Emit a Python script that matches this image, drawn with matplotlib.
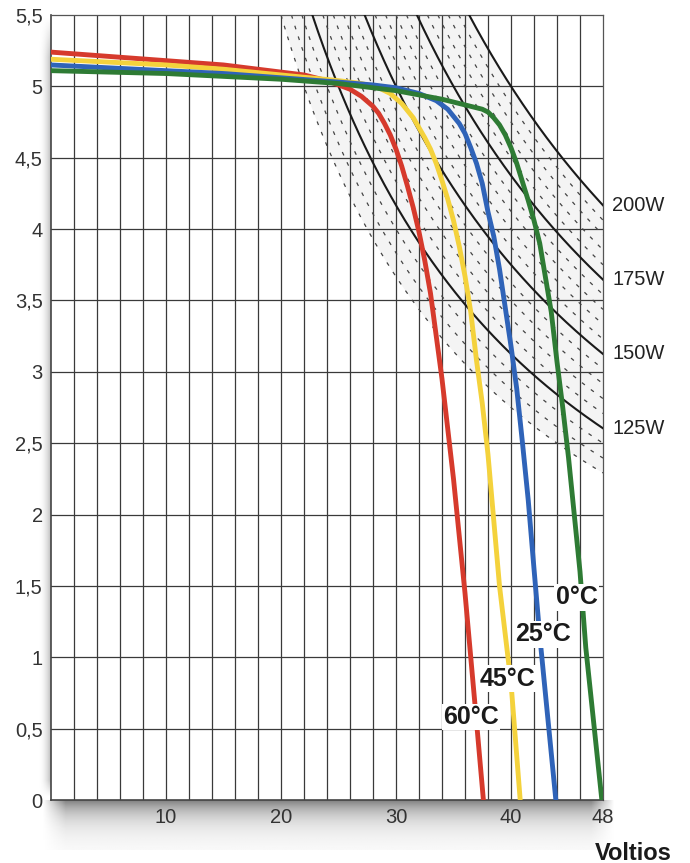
import numpy as np
import matplotlib
matplotlib.use("Agg")
from matplotlib import pyplot as plt

plt.rcParams['font.family'] = ['Liberation Sans', 'DejaVu Sans']

# I-V curves (volts, amps)
v_60 = [0, 5, 10, 15, 20, 22, 24, 25, 26, 27, 28, 28.5, 29, 29.5, 30, 30.5, 31, 31.5, 32, 32.5, 33, 34, 35, 36, 37, 37.6]
i_60 = [5.24, 5.21, 5.18, 5.15, 5.10, 5.08, 5.04, 5.01, 4.98, 4.93, 4.86, 4.81, 4.74, 4.66, 4.56, 4.44, 4.30, 4.15, 3.98, 3.78, 3.55, 2.95, 2.25, 1.45, 0.55, 0]

v_45 = [0, 5, 10, 15, 20, 25, 27, 28.5, 29.5, 30.5, 31.5, 32.5, 33, 33.5, 34, 34.5, 35, 35.5, 36, 36.5, 37, 37.5, 38, 39, 40, 40.8]
i_45 = [5.19, 5.17, 5.15, 5.12, 5.08, 5.04, 5.02, 4.99, 4.95, 4.88, 4.78, 4.64, 4.56, 4.46, 4.34, 4.21, 4.06, 3.88, 3.67, 3.42, 3.08, 2.78, 2.42, 1.50, 0.82, 0]

v_25 = [0, 5, 10, 15, 20, 25, 28, 30, 32, 33.5, 34.5, 35.5, 36, 36.5, 37, 37.5, 38, 38.5, 39, 39.5, 40, 40.5, 41, 41.5, 42, 42.5, 43.9]
i_25 = [5.15, 5.13, 5.11, 5.09, 5.06, 5.03, 5.01, 4.99, 4.95, 4.90, 4.84, 4.74, 4.67, 4.57, 4.46, 4.32, 4.12, 3.95, 3.72, 3.45, 3.18, 2.88, 2.50, 2.10, 1.62, 1.15, 0]

v_0 = [0, 5, 10, 15, 20, 25, 30, 34, 36, 37.5, 38, 38.5, 39, 39.5, 40, 40.5, 41, 41.5, 42, 42.5, 43, 43.5, 44, 44.5, 45, 45.5, 46, 46.5, 47.9]
i_0 = [5.11, 5.10, 5.09, 5.07, 5.05, 5.02, 4.97, 4.91, 4.87, 4.84, 4.82, 4.78, 4.73, 4.66, 4.57, 4.46, 4.33, 4.20, 4.06, 3.90, 3.66, 3.42, 3.07, 2.75, 2.40, 2.00, 1.60, 1.07, 0]

curves = [
    (v_60, i_60, '#d63a2c', '60°C', 36.5, 0.58),
    (v_45, i_45, '#f4d23c', '45°C', 39.7, 0.85),
    (v_25, i_25, '#2f63b8', '25°C', 42.8, 1.16),
    (v_0, i_0, '#2e7b34', '0°C', 45.7, 1.42),
]

# constant power lines (W)
solid_watts = [125, 150, 175, 200]
dashed_watts = [110, 115, 120, 130, 135, 140, 145, 155, 160, 165, 170, 180, 185, 190, 195]

y_ticks = [0, 0.5, 1, 1.5, 2, 2.5, 3, 3.5, 4, 4.5, 5, 5.5]
y_labels = ['0', '0,5', '1', '1,5', '2', '2,5', '3', '3,5', '4', '4,5', '5', '5,5']
x_ticks = [10, 20, 30, 40, 48]

fig = plt.figure(figsize=(6.9, 8.63), dpi=100)

# background shadows (pixel coords)
bg = fig.add_axes([0, 0, 1, 1], zorder=-5)
bg.set_xlim(0, 690)
bg.set_ylim(863, 0)
bg.axis('off')
yy = np.linspace(0, 1, 60)[:, None]
xx = np.linspace(0, 1, 300)[None, :]
shade = np.exp(-3.0 * yy) * np.clip(np.minimum(xx / 0.04, (1 - xx) / 0.04), 0, 1)
bg.imshow(1 - 0.5 * shade, cmap='gray', vmin=0, vmax=1, extent=[42, 615, 850, 800],
          aspect='auto', interpolation='bilinear')
xl = np.linspace(0, 1, 20)[None, :]
yl = np.linspace(0, 1, 100)[:, None]
lshade = xl ** 2 * np.clip(np.minimum(yl / 0.05, (1 - yl) / 0.02), 0, 1)
bg.imshow(1 - 0.25 * lshade, cmap='gray', vmin=0, vmax=1, extent=[38, 51, 800, 15],
          aspect='auto', interpolation='bilinear')

ax = fig.add_axes([51 / 690, 63 / 863, 552 / 690, 785 / 863])
ax.set_xlim(0, 48)
ax.set_ylim(0, 5.5)

# grid
for v in np.arange(2, 48, 2):
    ax.axvline(v, color='#3a3a3a', lw=0.9, zorder=1)
for i in np.arange(0.5, 5.5, 0.5):
    ax.axhline(i, color='#3a3a3a', lw=0.9, zorder=1)

# light band between lowest and highest power lines
vv = np.linspace(0.5, 48, 500)
ax.fill_between(vv, min(dashed_watts) / vv, max(solid_watts) / vv, color='#f4f4f4', zorder=0.5, lw=0)

for w in dashed_watts:
    v = np.linspace(w / 5.5, 48, 300)
    ax.plot(v, w / v, color='#444444', lw=0.9, ls=(0, (3, 6)), zorder=2)
for w in solid_watts:
    v = np.linspace(w / 5.5, 48, 300)
    ax.plot(v, w / v, color='#1a1a1a', lw=1.5, zorder=3)
    ax.text(48.8, w / 48, f'{w}W', fontsize=14.5, color='#222222', va='center', ha='left', clip_on=False)

for v, i, c, lab, tx, ty in curves:
    ax.plot(v, i, color=c, lw=3.5, zorder=4, solid_capstyle='round', solid_joinstyle='round')
    ax.text(tx, ty, lab, fontsize=18, fontweight='bold', color='#1a1a1a', ha='center', va='center',
            zorder=6, bbox=dict(boxstyle='square,pad=0.05', fc='white', ec='none'))

ax.set_yticks(y_ticks)
ax.set_yticklabels(y_labels)
ax.set_xticks(x_ticks)
ax.set_xticklabels([str(x) for x in x_ticks])
ax.tick_params(length=0, labelsize=14.5, labelcolor='#333333')
ax.tick_params(axis='y', pad=6)
ax.tick_params(axis='x', pad=6)

for s in ['left', 'bottom']:
    ax.spines[s].set_color('#444444')
    ax.spines[s].set_linewidth(1.2)
for s in ['top', 'right']:
    ax.spines[s].set_color('#555555')
    ax.spines[s].set_linewidth(0.9)

fig.text(633 / 690, 1 - 853 / 863, 'Voltios', fontsize=17, fontweight='bold', color='#1a1a1a',
         ha='center', va='center')

fig.savefig('out.png', dpi=100)
